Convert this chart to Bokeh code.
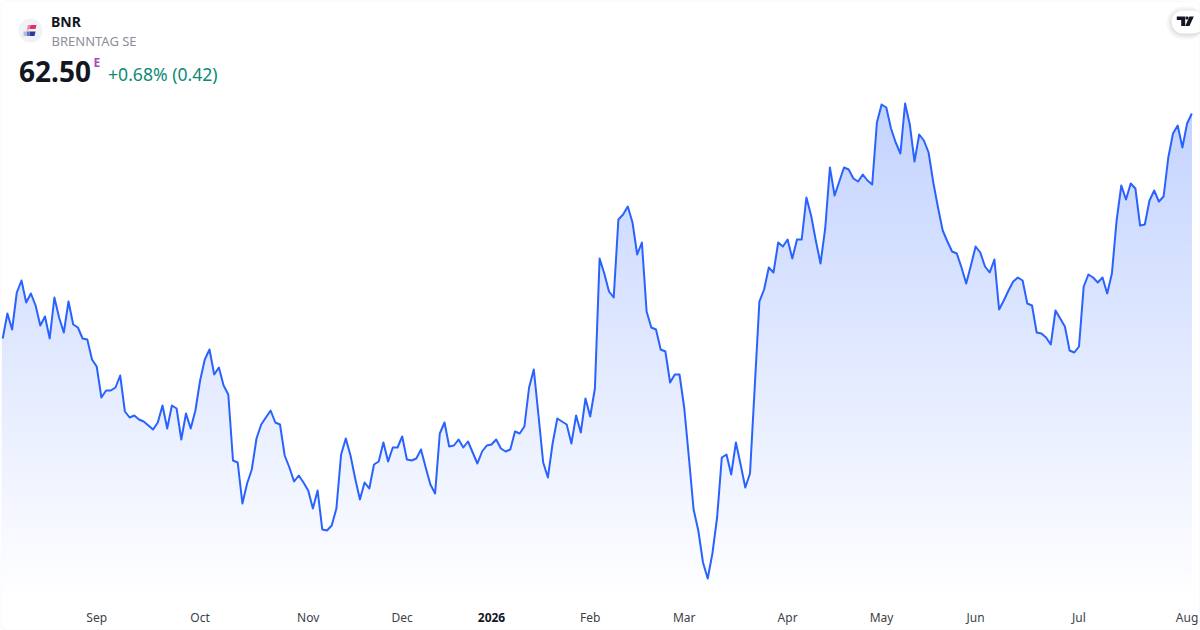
import numpy as np
from bokeh.plotting import figure
from bokeh.models import FixedTicker, Label, BoxAnnotation, PolyAnnotation, LinearAxis
from bokeh.embed import file_html
from bokeh.resources import INLINE

# Daily closes
prices = [53.50,54.50,53.86,55.34,55.82,54.94,55.30,54.82,54.02,54.38,53.50,55.14,54.34,53.74,54.98,54.06,53.94,53.50,53.46,52.66,
52.38,51.14,51.42,51.42,51.54,52.02,50.58,50.34,50.42,50.26,50.18,50.02,49.86,50.14,50.82,49.90,50.82,50.70,49.46,50.50,
49.90,50.62,51.82,52.66,53.06,52.06,52.34,51.62,51.26,48.62,48.54,46.90,47.70,48.26,49.50,50.06,50.34,50.62,50.14,50.06,
48.82,48.34,47.78,48.02,47.74,47.42,46.70,47.42,45.86,45.82,46.02,46.70,48.86,49.50,48.82,47.90,47.06,47.74,47.50,48.46,
48.58,49.34,48.58,49.14,49.14,49.58,48.66,48.62,48.70,49.06,48.34,47.66,47.30,49.70,50.14,49.18,49.22,49.46,49.14,49.38,
48.94,48.50,48.98,49.22,49.26,49.46,49.10,48.98,49.06,49.78,49.70,49.98,51.54,52.26,50.42,48.54,47.94,49.30,50.30,50.18,
50.06,49.30,50.42,49.74,51.10,50.38,51.50,56.70,56.10,55.38,55.14,58.26,58.46,58.78,58.14,56.86,57.34,54.58,53.94,53.86,
53.06,52.98,51.74,52.06,52.06,50.74,48.74,46.66,45.82,44.54,43.90,44.90,46.34,48.74,48.86,48.06,49.34,48.46,47.54,48.10,
51.54,54.98,55.46,56.34,56.14,57.34,57.18,57.46,56.70,57.46,57.46,59.14,58.42,57.42,56.50,57.90,60.34,59.22,59.78,60.34,
60.26,59.90,59.78,60.06,59.82,59.66,62.14,62.86,62.74,61.90,61.34,60.90,62.90,62.06,60.58,61.66,61.42,60.94,59.74,58.74,
57.82,57.38,56.98,56.90,56.34,55.70,56.42,57.18,56.94,56.38,56.14,56.66,54.66,55.02,55.42,55.78,55.94,55.82,54.90,54.82,
53.74,53.70,53.54,53.26,54.62,54.30,53.98,53.02,52.94,53.18,55.58,56.06,55.94,55.74,55.94,55.30,56.10,58.22,59.62,59.06,
59.70,59.50,58.02,58.06,59.02,59.42,58.98,59.18,60.74,61.70,62.02,61.14,62.10,62.50]

tick_index = [20, 42, 65, 85, 125, 145, 167, 187, 207, 229, 252]
tick_names = ["Sep", "Oct", "Nov", "Dec", "Feb", "Mar", "Apr", "May", "Jun", "Jul", "Aug"]
year_index = [104]
year_name = ["2026"]

symbol = "BNR"
company = "BRENNTAG SE"
last_price = "62.50"
change = "+0.68% (0.42)"

FONT = "Noto Sans"
LINE = "#2962FF"
W, H, PANE = 1200, 630, 600
PX_X = 4.7
PX_Y = 0.04

x = np.arange(len(prices))
x0 = -2.2 / PX_X
x1 = x0 + W / PX_X
y_top = 62.5 + 113 * PX_Y
y_pane = y_top - PANE * PX_Y

p = figure(width=W, height=H, output_backend="svg", toolbar_location=None,
           x_range=(x0, x1), y_range=(y_top - H * PX_Y, y_top),
           min_border_left=0, min_border_right=0, min_border_top=0, min_border_bottom=0,
           background_fill_color="white", border_fill_color="white", outline_line_color=None,
           x_axis_type=None, y_axis_type=None)
p.grid.visible = False

# gradient under the series: painted top-down as strips, then masked above the line
top_val = max(prices) + 0.1
levels = np.arange(top_val, y_pane, -2 * PX_Y)
frac = (top_val - levels) / (top_val - y_pane)
alpha = 0.28 * (1 - frac)
cols = ["#%02x%02x%02x" % (round(255 - 214 * a), round(255 - 157 * a), 255) for a in alpha]
p.quad(left=x[0], right=x[-1], top=levels, bottom=y_pane, fill_color=cols, line_color=None)
p.varea(x=np.r_[x0, x, x1], y1=np.r_[prices[0], prices, prices[-1]], y2=y_top, fill_color="white")
p.line(x, prices, line_color=LINE, line_width=2, line_join="round")


def time_axis(ticks, names, color, style, standoff):
    ax = LinearAxis(ticker=FixedTicker(ticks=ticks), major_label_overrides=dict(zip(ticks, names)),
                    axis_line_color=None, major_tick_line_color=None, minor_tick_line_color=None,
                    major_label_text_font=FONT, major_label_text_font_size="12px",
                    major_label_text_color=color, major_label_text_font_style=style,
                    major_label_standoff=standoff, fixed_location=y_pane)
    p.add_layout(ax, "below")


time_axis(tick_index, tick_names, "#3c3f48", "normal", 2)
time_axis(year_index, year_name, "#131722", "bold", 6)


def label(xp, yp, text, size, color, style="normal"):
    p.add_layout(Label(x=xp, y=yp, x_units="canvas", y_units="canvas", text=text, text_font=FONT,
                       text_font_size=size, text_color=color, text_font_style=style,
                       text_align="left", text_baseline="middle"))


def box(l, t, r, b, fill, alpha=1.0, radius=0):
    p.add_layout(BoxAnnotation(left=l, right=r, top=t, bottom=b, left_units="canvas", right_units="canvas",
                               top_units="canvas", bottom_units="canvas", fill_color=fill, fill_alpha=alpha,
                               line_color=None, border_radius=radius, level="overlay"))


def poly(xs, ys, fill):
    p.add_layout(PolyAnnotation(xs=xs, ys=ys, xs_units="canvas", ys_units="canvas", fill_color=fill,
                                fill_alpha=1, line_color=None, level="overlay"))


# symbol logo
box(18, 18, 42, 42, "#f0f2f8", radius=12)
poly([30, 36, 35, 29], [24.5, 24.5, 28.5, 28.5], "#e0335c")
poly([27.5, 30, 29, 26.5], [24.5, 24.5, 28.5, 28.5], "#ee7f97")
poly([26.5, 29, 28, 25.5], [28.5, 28.5, 30, 30], "#f2b4c2")
poly([29, 35, 34, 29], [31, 31, 35.5, 35.5], "#2b3a9a")
poly([26, 29, 29, 26], [31, 31, 35.5, 35.5], "#6571c0")
poly([23, 26, 26, 23], [31, 31, 35.5, 35.5], "#b4bbe2")

label(50.5, 21, symbol, "14px", "#131722", "bold")
label(51, 40.5, company, "13px", "#8c8f99")
label(18.5, 71, last_price, "28px", "#131722", "bold")
label(93, 62, "E", "12px", "#ab47bc", "bold")
label(107.5, 73, change, "17.6px", "#0b8a76")

# TradingView badge
for i, a in zip((5, 3, 1), (0.03, 0.04, 0.05)):
    box(1171 - i, 10 - i + 1, 1204, 33 + i + 1, "#000000", a, radius=12 + i)
box(1171, 10, 1204, 33, "#ffffff", radius=12)
poly([1176.3, 1184.7, 1184.7, 1180.7, 1180.7, 1176.3], [16, 16, 25.5, 25.5, 19.5, 19.5], "#131722")
poly([1189, 1193.3, 1189, 1184.7], [16, 16, 25.5, 25.5], "#131722")
box(1185, 16, 1188, 19, "#131722", radius=1)

# card border
p.add_layout(BoxAnnotation(left=0.5, right=1199.5, top=0.5, bottom=629.5, left_units="canvas", right_units="canvas",
                           top_units="canvas", bottom_units="canvas", fill_alpha=0, line_color="#e0e3eb",
                           line_width=1, border_radius=6, level="overlay"))

html = file_html(p, INLINE)
html = html.replace("<head>", "<head><style>html,body{margin:0;padding:0;overflow:hidden}</style>", 1)
open("out.html", "w").write(html)
